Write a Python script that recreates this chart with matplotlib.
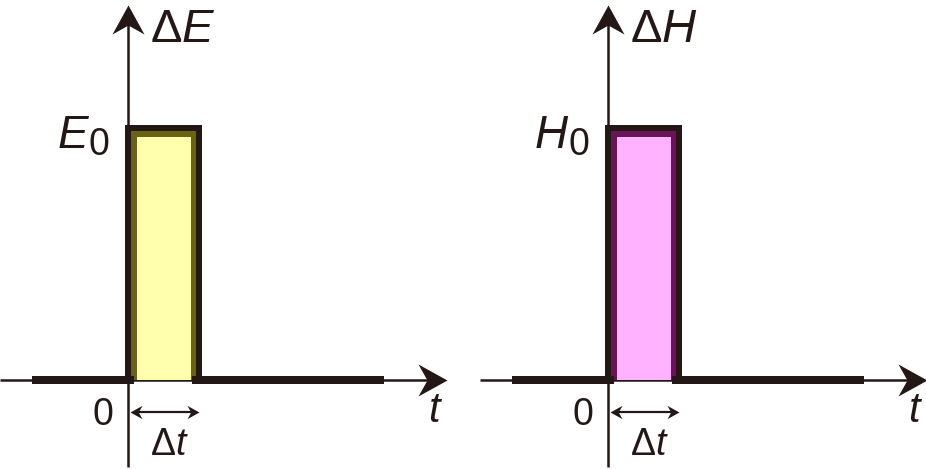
import matplotlib
matplotlib.use("Agg")
import matplotlib.pyplot as plt
from matplotlib.path import Path
from matplotlib.patches import Rectangle

plt.rcParams['font.family'] = ['Liberation Sans', 'DejaVu Sans']
plt.rcParams['mathtext.fontset'] = 'custom'
plt.rcParams['mathtext.rm'] = 'Liberation Sans'
plt.rcParams['mathtext.it'] = 'Liberation Sans:italic'

# ---- data (time in units of the pulse width, amplitude normalised) ----
pulse_start = 0.0
pulse_width = 1.0          # Δt
amplitude = 1.0            # E0 / H0
t_before = -1.35           # thick baseline start
t_after = 3.6              # thick baseline end
quantities = ["E", "H"]
fill_colors = ["#FFFFAE", "#FFB2FF"]
edge_colors = ["#6B6314", "#6A1458"]

K = "#231815"

W, H = 926, 469
fig = plt.figure(figsize=(W / 100, H / 100), dpi=100)

# pixel geometry of each panel
X0, UX = 128, 71       # y-axis position inside panel, px per Δt
Y0, UY = 380, 252      # baseline from top, px per amplitude unit
panel_boxes = [(0, 463), (480, 446)]

def arrow_path(direction):
    L, Wd, N = 29.0, 16.0, 20.0
    if direction == "right":
        v = [(0, 0), (-L, Wd), (-N, 0), (-L, -Wd), (0, 0)]
    elif direction == "left":
        v = [(0, 0), (L, Wd), (N, 0), (L, -Wd), (0, 0)]
    else:  # up
        v = [(0, 0), (Wd, -L), (0, -N), (-Wd, -L), (0, 0)]
    codes = [Path.MOVETO] + [Path.LINETO] * 3 + [Path.CLOSEPOLY]
    return Path(v, codes)

px2pt = 72 / 100

for i, q in enumerate(quantities):
    left, width = panel_boxes[i]
    ax = fig.add_axes([left / W, 0, width / W, 1])
    ax.set_axis_off()
    ax.set_xlim(-X0 / UX, (width - X0) / UX)
    ax.set_ylim(-(H - Y0) / UY, Y0 / UY)

    x_axis_start = -X0 / UX
    x_tip = (447 - X0) / UX
    y_tip = (Y0 - 5) / UY
    y_axis_bottom = -(H - 2 - Y0) / UY

    # thin axes
    ax.plot([x_axis_start, x_tip - 0.2], [0, 0], color=K, lw=1.8, solid_capstyle='butt', zorder=2)
    ax.plot([0, 0], [y_axis_bottom, y_tip - 0.05], color=K, lw=1.8, solid_capstyle='butt', zorder=2)
    ax.plot([x_tip], [0], marker=arrow_path("right"), markersize=58 * px2pt,
            color=K, markeredgewidth=0, clip_on=False, zorder=6)
    ax.plot([0], [y_tip], marker=arrow_path("up"), markersize=58 * px2pt,
            color=K, markeredgewidth=0, clip_on=False, zorder=6)

    # pulse fill + inner coloured edge
    x0, x1 = pulse_start, pulse_start + pulse_width
    rect = Rectangle((x0, 0), pulse_width, amplitude, facecolor=fill_colors[i],
                     edgecolor='none', zorder=3)
    ax.add_patch(rect)
    inner, = ax.plot([x0, x0, x1, x1], [0, amplitude, amplitude, 0],
                     color=edge_colors[i], lw=17 * px2pt, solid_joinstyle='miter', zorder=4)
    inner.set_clip_path(rect)

    # black outline
    ax.plot([x0, x0, x1, x1], [0, amplitude, amplitude, 0], color=K,
            lw=6 * px2pt, solid_joinstyle='miter', solid_capstyle='butt', zorder=5)

    # thick baselines
    ax.plot([t_before, x0 + 0.08], [0, 0], color=K, lw=8 * px2pt, solid_capstyle='butt', zorder=5)
    ax.plot([x1 - 0.1, t_after], [0, 0], color=K, lw=8 * px2pt, solid_capstyle='butt', zorder=5)

    # Δt double arrow
    ya = -(412 - Y0) / UY
    ax.plot([x0 + 0.1, x1 - 0.1], [ya, ya], color=K, lw=1.6, zorder=5)
    ax.plot([x0 + 0.03], [ya], marker=arrow_path("left"), markersize=24 * px2pt,
            color=K, markeredgewidth=0, zorder=6)
    ax.plot([x1], [ya], marker=arrow_path("right"), markersize=24 * px2pt,
            color=K, markeredgewidth=0, zorder=6)

    # labels
    ax.text(22 / UX, (Y0 - 42) / UY, r"$\Delta %s$" % q, fontsize=34,
            ha='left', va='baseline', color=K)
    ax.text(-40 / UX, (Y0 - 148) / UY, q, fontsize=33, style='italic',
            ha='right', va='baseline', color=K)
    ax.text(-19 / UX, (Y0 - 155) / UY, "0", fontsize=27,
            ha='right', va='baseline', color=K)
    ax.text(-15 / UX, -(425 - Y0) / UY, "0", fontsize=27,
            ha='right', va='baseline', color=K)
    ax.text(22 / UX, -(455 - Y0) / UY, r"$\Delta t$", fontsize=27,
            ha='left', va='baseline', color=K)
    ax.text((428 - X0) / UX, -(422 - Y0) / UY, r"$t$", fontsize=30,
            ha='left', va='baseline', color=K)

fig.savefig("out.png", dpi=100)
